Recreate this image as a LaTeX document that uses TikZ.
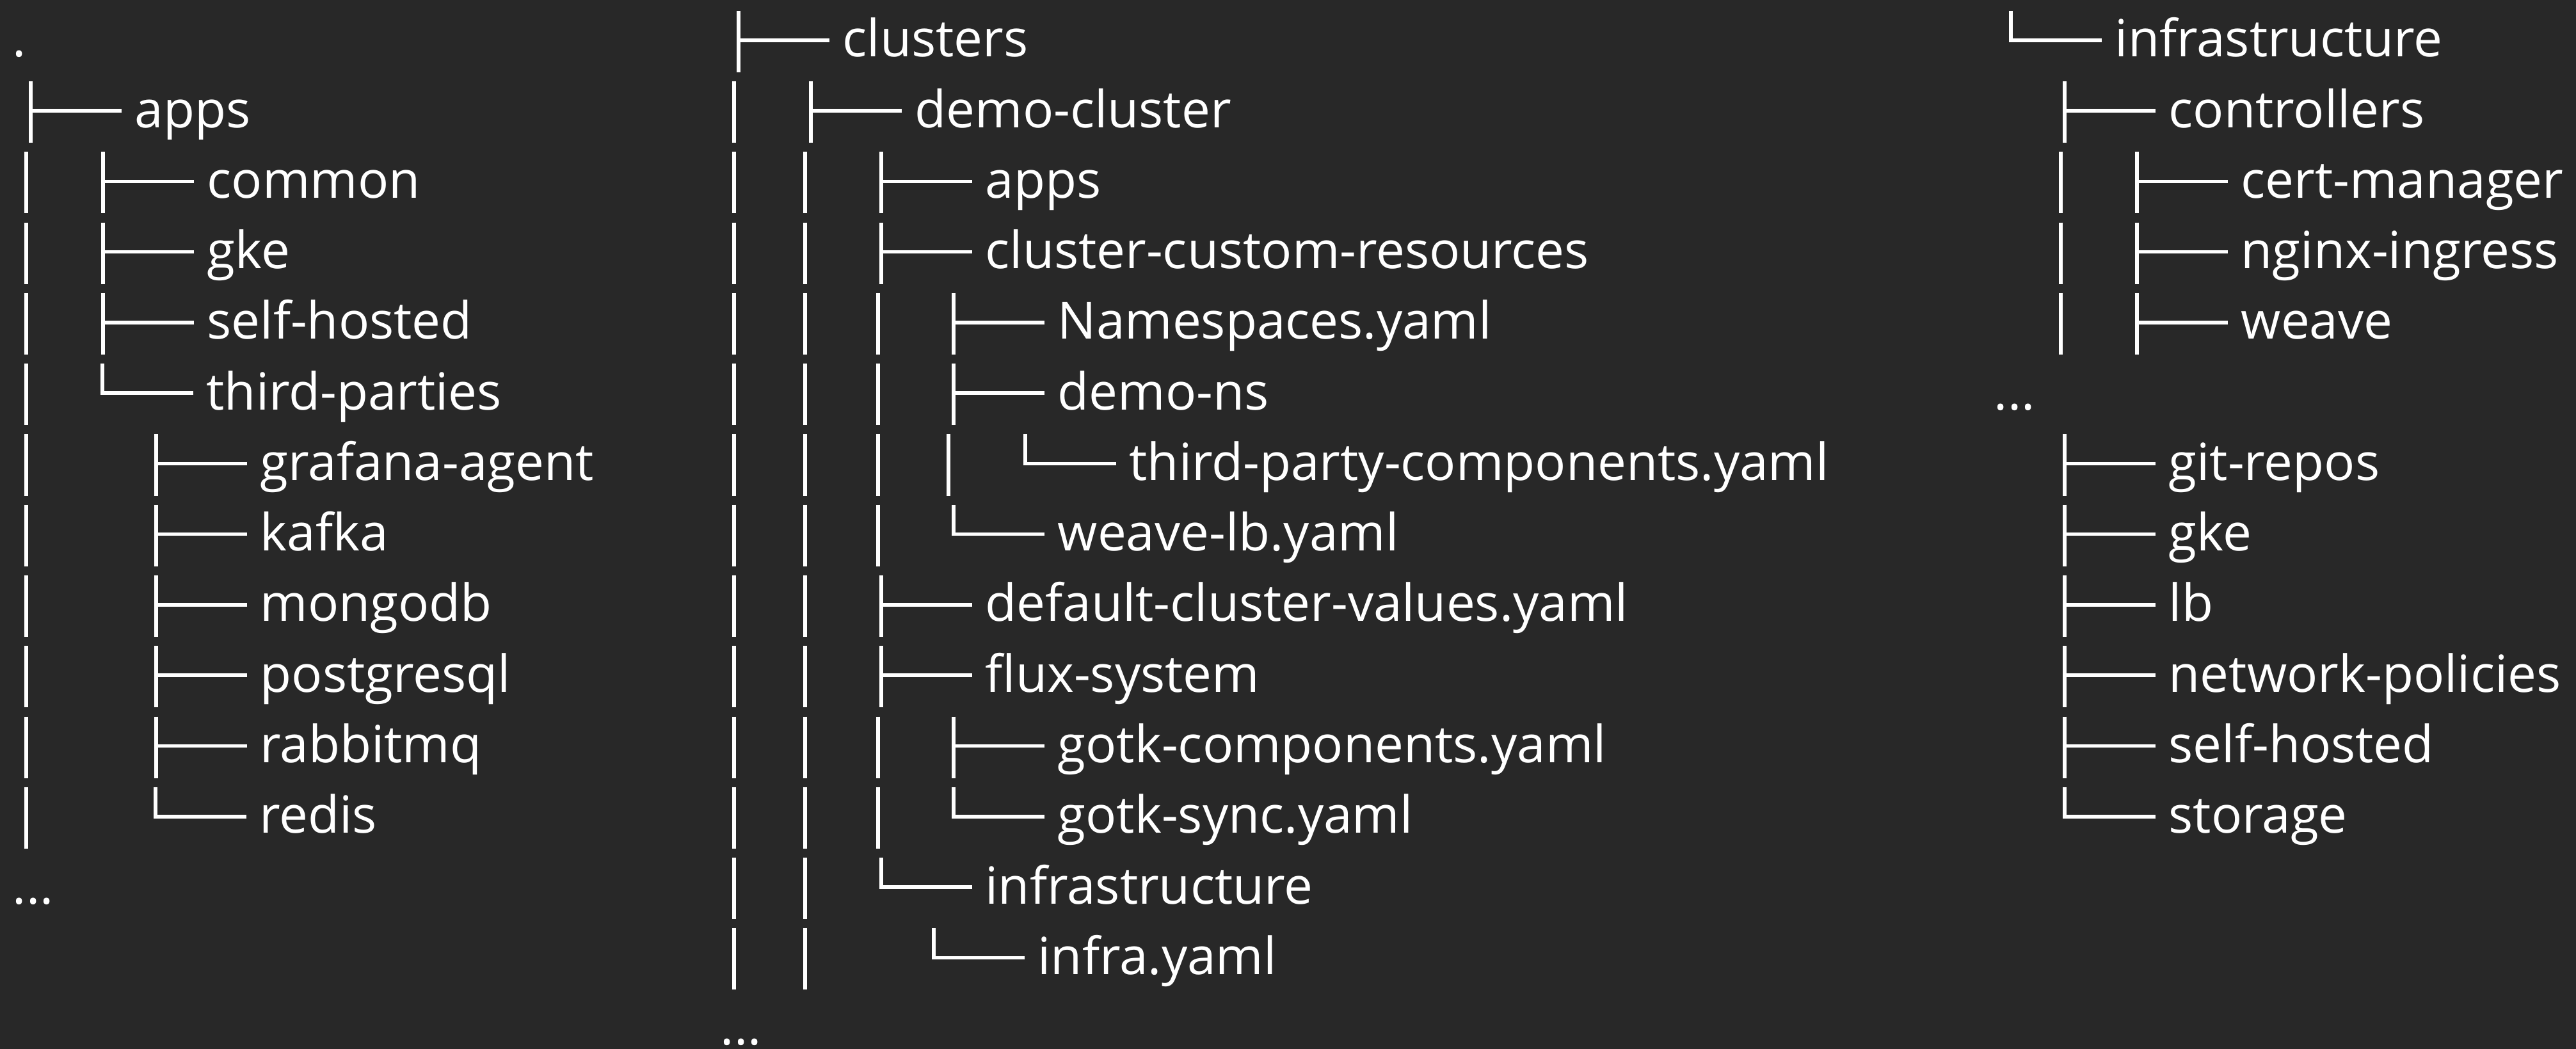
\documentclass[tikz,border=0pt]{standalone}
\usepackage{fontspec}
\setmainfont{Open Sans}
\definecolor{bgdark}{RGB}{40,40,40}

\begin{document}
\begin{tikzpicture}[x=0.01cm,y=-1.102cm,tree/.style={draw=white,line width=0.055cm},entry/.style={anchor=west,inner xsep=0.2cm,inner ysep=0pt,text height=0.62cm,text depth=0.1cm,text=white,font=\fontsize{22.76}{27}\selectfont}]
\def\br{142};
\def\up{0.417};
\def\dn{0.871};

\fill[bgdark] (0,-0.57) rectangle (4025,14.294);
\useasboundingbox (0,-0.57) rectangle (4025,14.294);

\node[entry] (root) at (-1,0) {.};
\node[entry] (apps) at (190,1) {apps};
\draw[tree] (apps.west) -- ++(-\br,0) ++(0,-\up) -- ++(0,\dn);
\node[entry] (common) at (303,2) {common};
\draw[tree] (common.west) -- ++(-\br,0) ++(0,-\up) -- ++(0,\dn);
\node[entry] (gke) at (303,3) {gke};
\draw[tree] (gke.west) -- ++(-\br,0) ++(0,-\up) -- ++(0,\dn);
\node[entry] (selfhosted) at (303,4) {self-hosted};
\draw[tree] (selfhosted.west) -- ++(-\br,0) ++(0,-\up) -- ++(0,\dn);
\node[entry] (thirdparties) at (302,5) {third-parties};
\draw[tree] (thirdparties.west) -- ++(-\br,0) -- ++(0,-\up);
\node[entry] (grafana) at (386,6) {grafana-agent};
\draw[tree] (grafana.west) -- ++(-\br,0) ++(0,-\up) -- ++(0,\dn);
\node[entry] (kafka) at (386,7) {kafka};
\draw[tree] (kafka.west) -- ++(-\br,0) ++(0,-\up) -- ++(0,\dn);
\node[entry] (mongodb) at (386,8) {mongodb};
\draw[tree] (mongodb.west) -- ++(-\br,0) ++(0,-\up) -- ++(0,\dn);
\node[entry] (postgresql) at (386,9) {postgresql};
\draw[tree] (postgresql.west) -- ++(-\br,0) ++(0,-\up) -- ++(0,\dn);
\node[entry] (rabbitmq) at (386,10) {rabbitmq};
\draw[tree] (rabbitmq.west) -- ++(-\br,0) ++(0,-\up) -- ++(0,\dn);
\node[entry] (redis) at (385,11) {redis};
\draw[tree] (redis.west) -- ++(-\br,0) -- ++(0,-\up);
\node[entry] (appsmore) at (-1,12) {...};
\foreach \r in {2,...,11} \draw[tree] (41,\r-\up) -- ++(0,\dn);

\node[entry] (clusters) at (1296,0) {clusters};
\draw[tree] (clusters.west) -- ++(-\br,0) ++(0,-\up) -- ++(0,\dn);
\node[entry] (democluster) at (1409,1) {demo-cluster};
\draw[tree] (democluster.west) -- ++(-\br,0) ++(0,-\up) -- ++(0,\dn);
\node[entry] (capps) at (1519,2) {apps};
\draw[tree] (capps.west) -- ++(-\br,0) ++(0,-\up) -- ++(0,\dn);
\node[entry] (ccr) at (1519,3) {cluster-custom-resources};
\draw[tree] (ccr.west) -- ++(-\br,0) ++(0,-\up) -- ++(0,\dn);
\node[entry] (namespaces) at (1632,4) {Namespaces.yaml};
\draw[tree] (namespaces.west) -- ++(-\br,0) ++(0,-\up) -- ++(0,\dn);
\node[entry] (demons) at (1632,5) {demo-ns};
\draw[tree] (demons.west) -- ++(-\br,0) ++(0,-\up) -- ++(0,\dn);
\node[entry] (tpc) at (1744,6) {third-party-components.yaml};
\draw[tree] (tpc.west) -- ++(-\br,0) -- ++(0,-\up);
\node[entry] (weavelb) at (1632,7) {weave-lb.yaml};
\draw[tree] (weavelb.west) -- ++(-\br,0) -- ++(0,-\up);
\node[entry] (dcv) at (1519,8) {default-cluster-values.yaml};
\draw[tree] (dcv.west) -- ++(-\br,0) ++(0,-\up) -- ++(0,\dn);
\node[entry] (flux) at (1519,9) {flux-system};
\draw[tree] (flux.west) -- ++(-\br,0) ++(0,-\up) -- ++(0,\dn);
\node[entry] (gotkc) at (1632,10) {gotk-components.yaml};
\draw[tree] (gotkc.west) -- ++(-\br,0) ++(0,-\up) -- ++(0,\dn);
\node[entry] (gotks) at (1632,11) {gotk-sync.yaml};
\draw[tree] (gotks.west) -- ++(-\br,0) -- ++(0,-\up);
\node[entry] (cinfra) at (1519,12) {infrastructure};
\draw[tree] (cinfra.west) -- ++(-\br,0) -- ++(0,-\up);
\node[entry] (infrayaml) at (1601,13) {infra.yaml};
\draw[tree] (infrayaml.west) -- ++(-\br,0) -- ++(0,-\up);
\node[entry,anchor=base west,text height=0.2cm,text depth=0pt] (clustersmore) at (1105,14.236) {...};
\foreach \r in {1,...,13} \draw[tree] (1147,\r-\up) -- ++(0,\dn);
\foreach \r in {2,...,13} \draw[tree] (1258,\r-\up) -- ++(0,\dn);
\foreach \r in {4,...,7,10,11} \draw[tree] (1372,\r-\up) -- ++(0,\dn);
\draw[tree] (1482,6-\up) -- ++(0,\dn);

\node[entry] (infra) at (3284,0) {infrastructure};
\draw[tree] (infra.west) -- ++(-\br,0) -- ++(0,-\up);
\node[entry] (controllers) at (3368,1) {controllers};
\draw[tree] (controllers.west) -- ++(-\br,0) ++(0,-\up) -- ++(0,\dn);
\node[entry] (certmanager) at (3481,2) {cert-manager};
\draw[tree] (certmanager.west) -- ++(-\br,0) ++(0,-\up) -- ++(0,\dn);
\node[entry] (nginx) at (3481,3) {nginx-ingress};
\draw[tree] (nginx.west) -- ++(-\br,0) ++(0,-\up) -- ++(0,\dn);
\node[entry] (weave) at (3481,4) {weave};
\draw[tree] (weave.west) -- ++(-\br,0) ++(0,-\up) -- ++(0,\dn);
\node[entry] (inframore) at (3095,5) {...};
\node[entry] (gitrepos) at (3368,6) {git-repos};
\draw[tree] (gitrepos.west) -- ++(-\br,0) ++(0,-\up) -- ++(0,\dn);
\node[entry] (igke) at (3368,7) {gke};
\draw[tree] (igke.west) -- ++(-\br,0) ++(0,-\up) -- ++(0,\dn);
\node[entry] (lb) at (3368,8) {lb};
\draw[tree] (lb.west) -- ++(-\br,0) ++(0,-\up) -- ++(0,\dn);
\node[entry] (netpol) at (3368,9) {network-policies};
\draw[tree] (netpol.west) -- ++(-\br,0) ++(0,-\up) -- ++(0,\dn);
\node[entry] (ihosted) at (3368,10) {self-hosted};
\draw[tree] (ihosted.west) -- ++(-\br,0) ++(0,-\up) -- ++(0,\dn);
\node[entry] (storage) at (3368,11) {storage};
\draw[tree] (storage.west) -- ++(-\br,0) -- ++(0,-\up);
\foreach \r in {2,...,4} \draw[tree] (3220,\r-\up) -- ++(0,\dn);
\end{tikzpicture}
\end{document}
